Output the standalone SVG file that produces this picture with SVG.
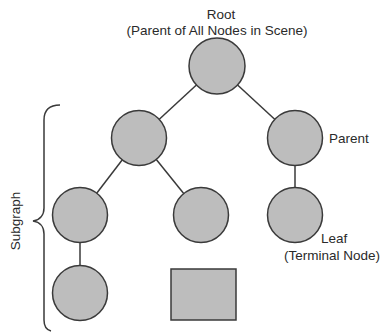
<svg xmlns="http://www.w3.org/2000/svg" width="383" height="333" viewBox="0 0 383 333">
<style>
.n{fill:#bdbdbd;stroke:#3a3a3a;stroke-width:1.5}
.c{stroke:#3a3a3a;stroke-width:1.5;fill:none}
text{font-family:"Liberation Sans",Arial,sans-serif;font-size:13.5px;fill:#2a2a2a}
</style>
<rect width="383" height="333" fill="#fff"/>
<g id="connectors">
<line class="c" x1="217" y1="66" x2="139" y2="138"/>
<line class="c" x1="217" y1="66" x2="295" y2="138"/>
<line class="c" x1="139" y1="138" x2="80" y2="215"/>
<line class="c" x1="139" y1="138" x2="201" y2="215"/>
<line class="c" x1="295" y1="138" x2="295" y2="215"/>
<line class="c" x1="80" y1="215" x2="80" y2="293"/>
</g>
<g id="root"><circle class="n" cx="217" cy="66" r="28"/>
<text x="221" y="19" text-anchor="middle">Root</text>
<text x="217" y="35" text-anchor="middle">(Parent of All Nodes in Scene)</text></g>
<g id="n-l2-left"><circle class="n" cx="139" cy="138" r="27.5"/></g>
<g id="n-l2-right"><circle class="n" cx="295" cy="138" r="27.5"/>
<text x="329" y="143">Parent</text></g>
<g id="n-l3-left"><circle class="n" cx="80" cy="215" r="27.5"/></g>
<g id="n-l3-mid"><circle class="n" cx="201" cy="215" r="27.5"/></g>
<g id="n-l3-right"><circle class="n" cx="295" cy="215" r="27.5"/>
<text x="321" y="243">Leaf</text>
<text x="284" y="260">(Terminal Node)</text></g>
<g id="n-l4-left"><circle class="n" cx="80" cy="293" r="27.5"/></g>
<g id="n-l4-rect"><rect class="n" x="171" y="269" width="65" height="51"/></g>
<g id="subgraph">
<path class="c" d="M60,105 C50,105 44,110 44,120 L44,208 C44,215 40,220 33,221 C40,222 44,227 44,234 L44,320 C44,326 47,330 51,331"/>
<text transform="translate(20,221) rotate(-90)" text-anchor="middle">Subgraph</text>
</g>
</svg>
